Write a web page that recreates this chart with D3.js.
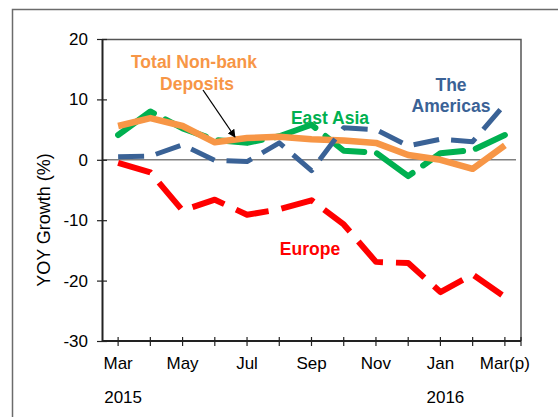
<!DOCTYPE html>
<html>
<head>
<meta charset="utf-8">
<script src="https://cdn.jsdelivr.net/npm/d3@7"></script>
<style>
  body { margin: 0; background: #fff; }
  text { font-family: "Liberation Sans", Arial, sans-serif; }
</style>
</head>
<body>
<div id="chart"></div>
<script>
// Month categories and year labels
const months = ["Mar", "Apr", "May", "Jun", "Jul", "Aug", "Sep", "Oct", "Nov", "Dec", "Jan", "Feb", "Mar(p)"];
const monthLabels = ["Mar", "", "May", "", "Jul", "", "Sep", "", "Nov", "", "Jan", "", "Mar(p)"];
const yearLabels = [{ month: "Mar", text: "2015" }, { month: "Jan", text: "2016" }];
const yTicks = [20, 10, 0, -10, -20, -30];

// Series values (YOY growth, %)
const totalDeposits = [5.6, 6.9, 5.6, 2.9, 3.6, 3.8, 3.4, 3.2, 2.8, 0.8, 0.0, -1.5, 2.4];
const eastAsia = [4.1, 8.0, 5.2, 3.3, 2.8, 3.9, 5.8, 1.5, 1.2, -2.7, 1.1, 1.6, 4.1];
const americas = [0.5, 0.6, 2.5, -0.1, -0.3, 2.8, -1.8, 5.3, 5.0, 2.3, 3.4, 3.0, 9.2];
const europe = [-0.5, -2.1, -8.4, -6.6, -9.1, -8.2, -6.7, -10.7, -16.9, -17.1, -21.9, -19.0, -22.7];

const W = 558, H = 417;
const margin = { top: 39, right: 37, bottom: 76, left: 102 };
const width = W - margin.left - margin.right;
const height = H - margin.top - margin.bottom;

const svg = d3.select("#chart")
    .append("svg")
    .attr("width", W)
    .attr("height", H);

// Outer frame (only left and top visible)
svg.append("path")
    .attr("d", `M12.5,${H} L12.5,9.5 L${W},9.5`)
    .attr("fill", "none")
    .attr("stroke", "#6b6b6b")
    .attr("stroke-width", 1.5);

const g = svg.append("g")
    .attr("transform", `translate(${margin.left},${margin.top})`);

const x = d3.scaleBand()
    .domain(months)
    .range([0, width]);

const y = d3.scaleLinear()
    .domain([-30, 20])
    .range([height, 0]);

const cx = m => x(m) + x.bandwidth() / 2;

// Plot border: top and right
g.append("path")
    .attr("d", `M0,0.5 L${width},0.5 L${width},${height}`)
    .attr("fill", "none")
    .attr("stroke", "#555")
    .attr("stroke-width", 1.5);

// Zero line
g.append("line")
    .attr("x1", 0).attr("x2", width - 5)
    .attr("y1", y(0)).attr("y2", y(0))
    .attr("stroke", "#808080")
    .attr("stroke-width", 1.5);

// Y axis
const yAxis = g.append("g")
    .call(d3.axisLeft(y).tickValues(yTicks).tickFormat(d => String(d))
        .tickSizeInner(6).tickSizeOuter(0).tickPadding(9));
yAxis.select(".domain").attr("stroke", "#222").attr("stroke-width", 2);
yAxis.selectAll(".tick line").attr("x2", 5).attr("x1", -5).attr("stroke", "#222").attr("stroke-width", 1.2);
yAxis.selectAll(".tick text")
    .attr("x", -14)
    .attr("font-size", "17px")
    .attr("fill", "#000");

// X axis (ticks at data points plus right edge)
const xAxis = g.append("g")
    .attr("transform", `translate(0,${height})`);
xAxis.append("line")
    .attr("x1", 0).attr("x2", width)
    .attr("stroke", "#222").attr("stroke-width", 2);
const tickXs = months.map(cx).concat([width]);
xAxis.selectAll(".xt")
    .data(tickXs)
    .enter()
    .append("line")
    .attr("x1", d => d).attr("x2", d => d)
    .attr("y1", -4).attr("y2", 5)
    .attr("stroke", "#222").attr("stroke-width", 1.2);
xAxis.selectAll(".xl")
    .data(months)
    .enter()
    .append("text")
    .attr("x", d => cx(d))
    .attr("y", 28)
    .attr("text-anchor", "middle")
    .attr("font-size", "17px")
    .text((d, i) => monthLabels[i]);
xAxis.selectAll(".yl")
    .data(yearLabels)
    .enter()
    .append("text")
    .attr("x", d => cx(d.month) + 5)
    .attr("y", 62)
    .attr("text-anchor", "middle")
    .attr("font-size", "17px")
    .text(d => d.text);

// Y axis title
svg.append("text")
    .attr("transform", "translate(50,220) rotate(-90)")
    .attr("text-anchor", "middle")
    .attr("font-size", "18px")
    .text("YOY Growth (%)");

// Lines
const line = d3.line()
    .x((d, i) => cx(months[i]))
    .y(d => y(d));

const series = [
    { values: eastAsia, color: "#00b050", width: 6, dash: "44,13", cap: "round" },
    { values: totalDeposits, color: "#f79646", width: 6.5, dash: null, cap: "butt" },
    { values: americas, color: "#3a6296", width: 5, dash: "26,12", cap: "butt" },
    { values: europe, color: "#ff0000", width: 6, dash: "34,13", cap: "butt" }
];

g.selectAll(".series")
    .data(series)
    .enter()
    .append("path")
    .attr("class", "series")
    .attr("d", d => line(d.values))
    .attr("fill", "none")
    .attr("stroke", d => d.color)
    .attr("stroke-width", d => d.width)
    .attr("stroke-linejoin", "round")
    .attr("stroke-linecap", d => d.cap)
    .attr("stroke-dasharray", d => d.dash);

// Annotations
const labels = [
    { text: "Total Non-bank", x: 194, y: 68, color: "#f79646" },
    { text: "Deposits", x: 197, y: 90, color: "#f79646" },
    { text: "East Asia", x: 330, y: 124, color: "#00b050" },
    { text: "The", x: 451, y: 91, color: "#3a6296" },
    { text: "Americas", x: 451, y: 112, color: "#3a6296" },
    { text: "Europe", x: 310, y: 255, color: "#ff0000" }
];
svg.selectAll(".ann")
    .data(labels)
    .enter()
    .append("text")
    .attr("x", d => d.x)
    .attr("y", d => d.y)
    .attr("text-anchor", "middle")
    .attr("font-size", "17.5px")
    .attr("font-weight", "bold")
    .attr("fill", d => d.color)
    .text(d => d.text);

// Arrow pointing at the total deposits line
svg.append("defs").append("marker")
    .attr("id", "arrow")
    .attr("viewBox", "0 0 10 10")
    .attr("refX", 9).attr("refY", 5)
    .attr("markerWidth", 8).attr("markerHeight", 8)
    .attr("markerUnits", "userSpaceOnUse")
    .attr("orient", "auto")
    .append("path")
    .attr("d", "M0,0 L10,5 L0,10 Z")
    .attr("fill", "#000");
svg.append("line")
    .attr("x1", 203).attr("y1", 90)
    .attr("x2", 235).attr("y2", 137)
    .attr("stroke", "#000")
    .attr("stroke-width", 1.3)
    .attr("marker-end", "url(#arrow)");
</script>
</body>
</html>
